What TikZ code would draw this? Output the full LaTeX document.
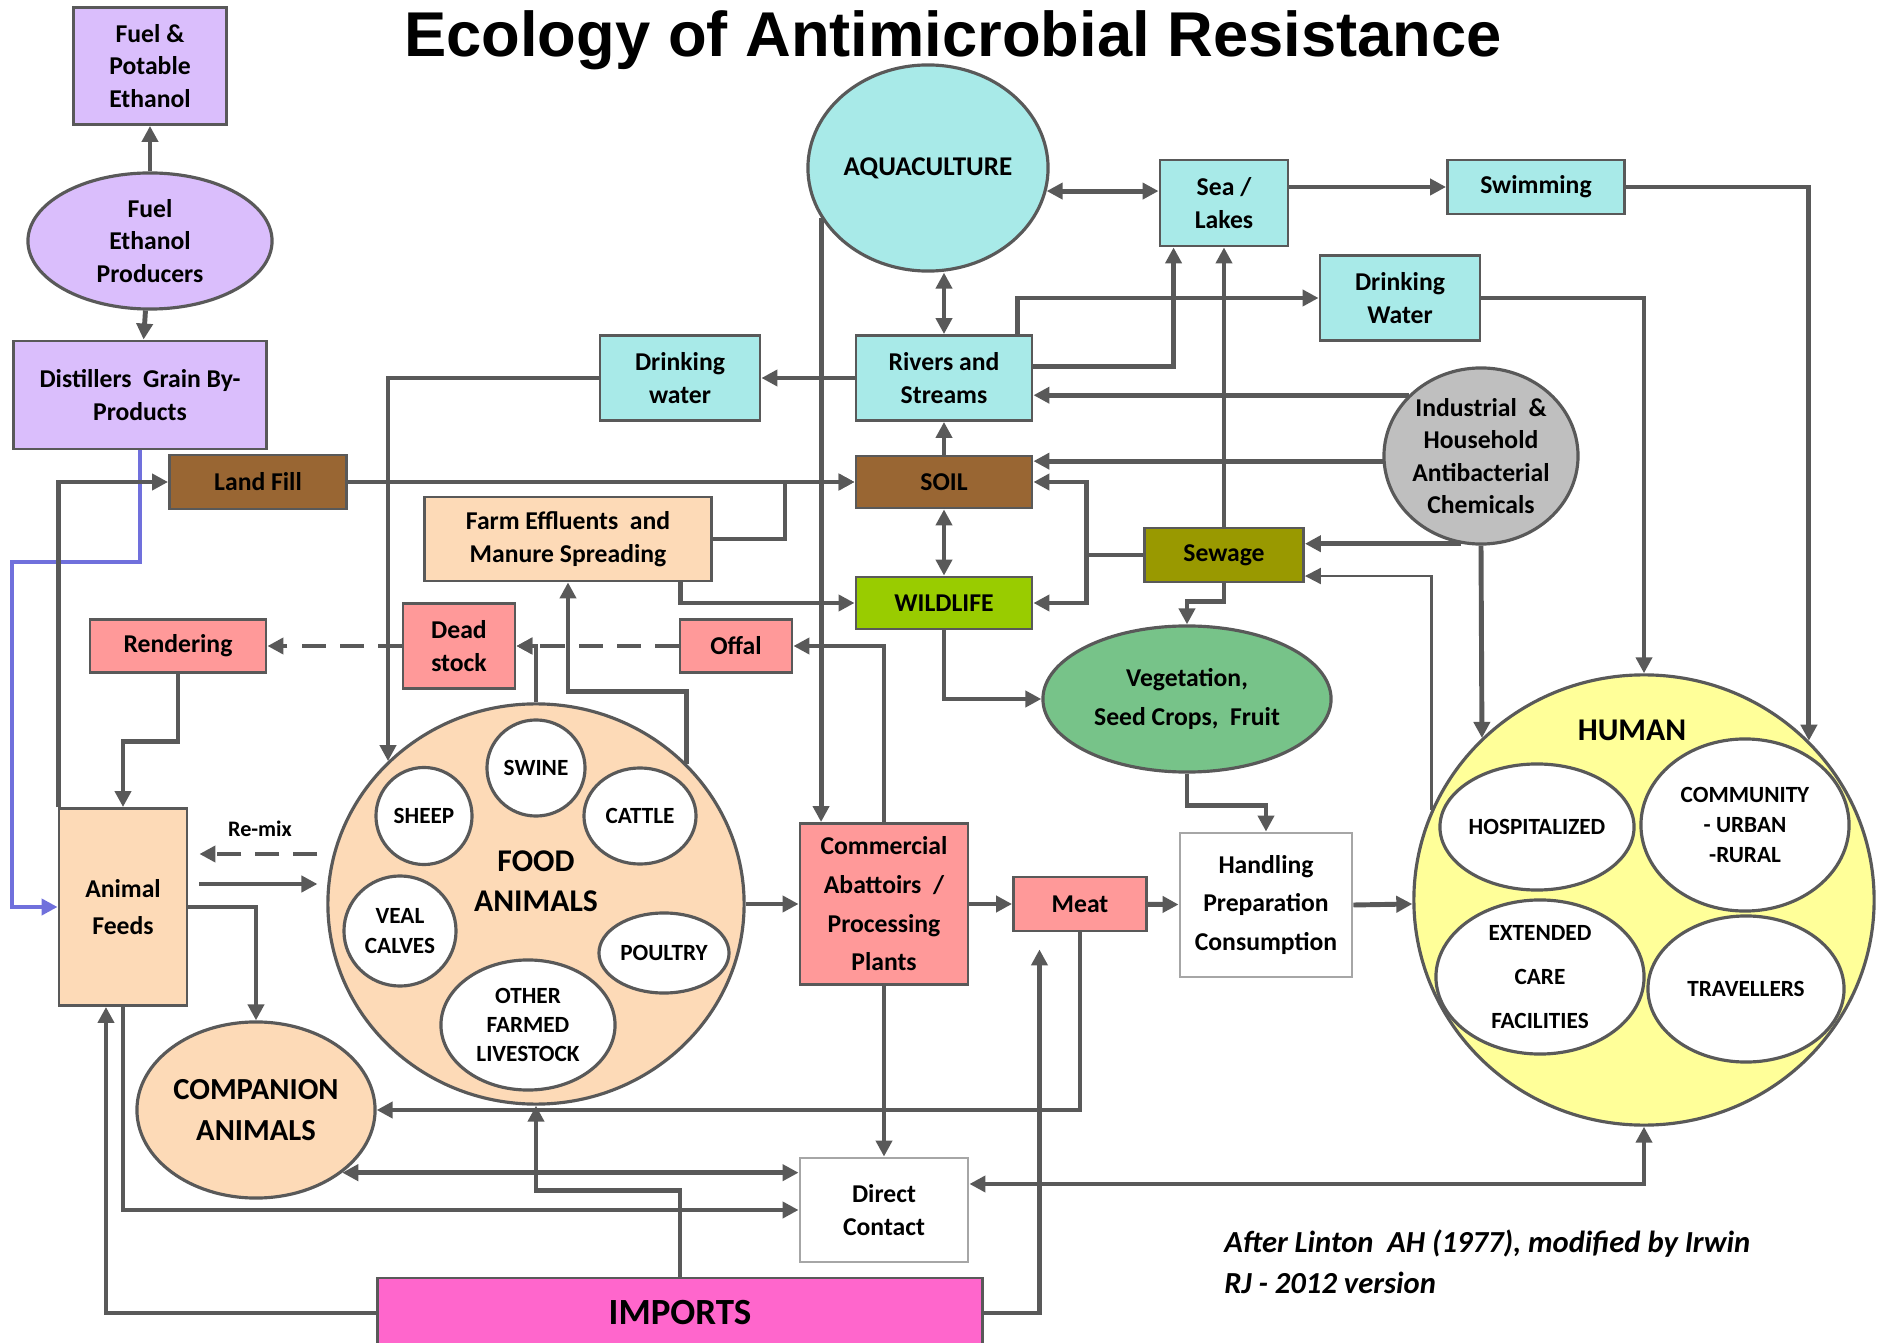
\documentclass[tikz,border=0pt]{standalone}
\usepackage{fontspec}
\setmainfont{Carlito}
\newfontfamily\headfont{Liberation Sans}
\usepackage{tikz}
\usetikzlibrary{calc,arrows.meta,positioning,shapes}
\definecolor{edge}{RGB}{89,89,89}
\definecolor{water}{RGB}{168,234,232}
\definecolor{earth}{RGB}{153,102,51}
\definecolor{peach}{RGB}{253,218,183}
\definecolor{salmon}{RGB}{255,153,153}
\definecolor{wildgreen}{RGB}{153,204,0}
\definecolor{olivebox}{RGB}{153,153,0}
\definecolor{chemgray}{RGB}{191,191,191}
\definecolor{veggreen}{RGB}{119,195,137}
\definecolor{humanyellow}{RGB}{255,255,153}
\definecolor{importpink}{RGB}{255,102,204}
\definecolor{ethanol}{RGB}{218,190,252}
\definecolor{feedline}{RGB}{112,112,220}

\begin{document}
\begin{tikzpicture}[x=0.01cm,y=-0.01cm,
    font=\bfseries\fontsize{7.3}{9.2}\selectfont,
    >={Triangle[length=1.6mm,width=1.6mm]},
    box/.style={draw=edge,line width=0.8pt,align=center,inner sep=1pt},
    blob/.style={ellipse,draw=edge,line width=0.9pt,align=center,inner sep=0pt},
    sub/.style={blob,fill=white,font=\bfseries\fontsize{6.6}{8.5}\selectfont},
    conn/.style={->,draw=edge,line width=1.4pt},
    conn2/.style={<->,draw=edge,line width=1.4pt},
    dashconn/.style={conn,dash pattern=on 2.4mm off 1.4mm}]
  \useasboundingbox (0,0) rectangle (1881,1343);

  \node[font=\headfont\bfseries\fontsize{18}{20}\selectfont] (title) at (953,40) {Ecology of Antimicrobial Resistance};

  % ethanol chain
  \node[box,fill=ethanol,minimum width=1.53cm,minimum height=1.17cm] (fuelpot) at (150,66) {Fuel \&\\Potable\\Ethanol};
  \node[blob,fill=ethanol,minimum width=2.44cm,minimum height=1.36cm] (producers) at (150,241) {Fuel\\Ethanol\\Producers};
  \node[box,fill=ethanol,minimum width=2.53cm,minimum height=1.08cm] (distill) at (140,395) {Distillers~~Grain By-\\Products};

  % water side
  \node[blob,fill=water,minimum width=2.40cm,minimum height=2.06cm,font=\bfseries\fontsize{7.7}{9.2}\selectfont] (aqua) at (928,168) {AQUACULTURE};
  \node[box,fill=water,minimum width=1.28cm,minimum height=0.86cm] (sea) at (1224,203) {Sea /\\Lakes};
  \node[box,fill=water,minimum width=1.77cm,minimum height=0.54cm] (swim) at (1536,187) {Swimming};
  \node[box,fill=water,minimum width=1.60cm,minimum height=0.85cm] (dwright) at (1400,298) {Drinking\\Water};
  \node[box,fill=water,minimum width=1.60cm,minimum height=0.85cm] (dwleft) at (680,378) {Drinking\\water};
  \node[box,fill=water,minimum width=1.76cm,minimum height=0.85cm] (rivers) at (944,378) {Rivers and\\Streams};
  \node[blob,fill=chemgray,minimum width=1.92cm,minimum height=1.76cm] (indus) at (1481,456) {Industrial~~\&\\Household\\Antibacterial\\Chemicals};

  % land
  \node[box,fill=earth,minimum width=1.77cm,minimum height=0.54cm] (landfill) at (258,482) {Land Fill};
  \node[box,fill=earth,minimum width=1.76cm,minimum height=0.52cm] (soil) at (944,482) {SOIL};
  \node[box,fill=wildgreen,minimum width=1.76cm,minimum height=0.52cm] (wild) at (944,603) {WILDLIFE};
  \node[box,fill=olivebox,minimum width=1.59cm,minimum height=0.54cm] (sewage) at (1224,555) {Sewage};
  \node[blob,fill=veggreen,minimum width=2.88cm,minimum height=1.46cm,font=\bfseries\fontsize{7.3}{11.2}\selectfont] (veg) at (1187,699) {Vegetation,\\Seed Crops,~~Fruit};
  \node[box,fill=peach,minimum width=2.87cm,minimum height=0.84cm] (farm) at (568,539) {Farm Effluents~~and\\Manure Spreading};

  % animals
  \node[box,fill=salmon,minimum width=1.12cm,minimum height=0.85cm] (dead) at (459,646) {Dead\\stock};
  \node[box,fill=salmon,minimum width=1.76cm,minimum height=0.53cm] (render) at (178,646) {Rendering};
  \node[box,fill=salmon,minimum width=1.12cm,minimum height=0.53cm] (offal) at (736,646) {Offal};
  \node[box,fill=peach,minimum width=1.28cm,minimum height=1.97cm,font=\bfseries\fontsize{7.3}{10.6}\selectfont] (feeds) at (123,907) {Animal\\Feeds};
  \node[font=\bfseries\fontsize{6.3}{8}\selectfont] (remix) at (260,829) {Re-mix};
  \node[blob,fill=peach,minimum width=4.16cm,minimum height=4.00cm] (food) at (536,904) {};
  \node[font=\bfseries\fontsize{9}{11.3}\selectfont,align=center] (foodlbl) at (536,881) {FOOD\\ANIMALS};
  \node[sub,minimum width=0.98cm,minimum height=0.96cm] (swine) at (536,768) {SWINE};
  \node[sub,minimum width=0.96cm,minimum height=0.97cm] (sheep) at (424,816) {SHEEP};
  \node[sub,minimum width=1.12cm,minimum height=0.96cm] (cattle) at (640,816) {CATTLE};
  \node[sub,minimum width=1.12cm,minimum height=1.10cm] (veal) at (400,931) {VEAL\\CALVES};
  \node[sub,minimum width=1.30cm,minimum height=0.80cm] (poultry) at (664,953) {POULTRY};
  \node[sub,minimum width=1.74cm,minimum height=1.30cm,font=\bfseries\fontsize{6.6}{8.2}\selectfont] (other) at (528,1025) {OTHER\\FARMED\\LIVESTOCK};
  \node[blob,fill=peach,minimum width=2.38cm,minimum height=1.76cm,font=\bfseries\fontsize{8.7}{11.6}\selectfont] (companion) at (256,1110) {COMPANION\\ANIMALS};

  % processing and human
  \node[box,fill=salmon,minimum width=1.68cm,minimum height=1.61cm,font=\bfseries\fontsize{7.3}{11}\selectfont] (abatt) at (884,904) {Commercial\\Abattoirs~~/\\Processing\\Plants};
  \node[box,fill=salmon,minimum width=1.33cm,minimum height=0.54cm] (meat) at (1080,904) {Meat};
  \node[box,draw=gray!70,fill=white,minimum width=1.72cm,minimum height=1.44cm,font=\bfseries\fontsize{7.3}{11}\selectfont] (handling) at (1266,905) {Handling\\Preparation\\Consumption};
  \node[blob,fill=humanyellow,minimum width=4.60cm,minimum height=4.50cm] (human) at (1644,900) {};
  \node[font=\bfseries\fontsize{9}{11}\selectfont] (humanlbl) at (1632,730) {HUMAN};
  \node[sub,minimum width=1.94cm,minimum height=1.26cm] (hosp) at (1537,827) {HOSPITALIZED};
  \node[sub,minimum width=2.08cm,minimum height=1.72cm] (comm) at (1745,825) {COMMUNITY\\- URBAN\\-RURAL};
  \node[sub,minimum width=2.08cm,minimum height=1.54cm,font=\bfseries\fontsize{6.6}{12.6}\selectfont] (ext) at (1540,977) {EXTENDED\\CARE\\FACILITIES};
  \node[sub,minimum width=1.96cm,minimum height=1.46cm] (trav) at (1746,989) {TRAVELLERS};
  \node[box,draw=gray!70,fill=white,minimum width=1.68cm,minimum height=1.04cm,font=\bfseries\fontsize{7.3}{9.6}\selectfont] (direct) at (884,1210) {Direct\\Contact};
  \node[box,fill=importpink,minimum width=6.05cm,minimum height=0.70cm,font=\bfseries\fontsize{10.5}{12}\selectfont] (imports) at (680,1313) {IMPORTS};

  \node[anchor=west,align=left,font=\bfseries\itshape\fontsize{8.7}{11.8}\selectfont] (credit) at (1212,1262) {After Linton~~AH (1977), modified by Irwin\\RJ - 2012 version};

  % connectors
  \draw[conn] (producers) -- (fuelpot);
  \draw[conn] (producers) -- (distill);
  \draw[conn,draw=feedline] (distill.south) |- (12,562) |- (feeds.west);
  \draw[conn] ([xshift=0.1mm]feeds.north west) |- (landfill.west);
  \draw[conn] (landfill) -- (soil);
  \draw[conn] (farm.east) -- ++(72,0) |- (soil.west);
  \draw[conn] ([xshift=1.12cm]farm.south) |- (wild.west);
  \draw[conn] (dwleft.west) -| (food.136.5);
  \draw[conn] (rivers) -- (dwleft);
  \draw[conn2] (aqua.south -| rivers.north) -- (rivers.north);
  \draw[conn2] (aqua.-11) -- (aqua.-11 -| sea.west);
  \draw[conn] (sea.east |- swim.west) -- (swim.west);
  \draw[conn] (swim.east) -| (human.44.3);
  \draw[conn] ([yshift=1.15mm]rivers.east) -| ([xshift=1.5mm]sea.south west);
  \draw[conn] ([xshift=-1.6mm]rivers.north east) |- (dwright.west);
  \draw[conn] (dwright.east) -| (human.north);
  \draw[conn] (indus.140) -- (indus.140 -| rivers.east);
  \draw[conn] (indus.183) -- (indus.183 -| soil.east);
  \draw[conn] (indus.257) -- (indus.257 -| sewage.east);
  \draw[conn] (indus.south) -- (human.135.7);
  \draw[conn] (sewage.north) -- (sewage.north |- sea.south);
  \draw[conn] (sewage.west) -- ++(-57,0) coordinate (sj) |- (soil.east);
  \draw[conn] (sj) |- (wild.east);
  \draw[conn] (sewage.south) -- ++(0,18) -| (veg.north);
  \draw[conn,line width=0.6pt] (human.157.7) |- ([yshift=-2.1mm]sewage.east);
  \draw[conn2] (soil) -- (wild);
  \draw[conn] (soil) -- (rivers);
  \draw[conn] (wild.south) |- (veg.west);
  \draw[conn] (veg.south) -- ++(0,32) -| (handling.north);
  \draw[conn] (handling.east) -- (human);
  \draw[conn] (food) -- (abatt);
  \draw[conn] (abatt) -- (meat);
  \draw[conn] (meat) -- (handling);
  \draw[conn] (aqua.205.5) -- (aqua.205.5 |- abatt.north);
  \draw[conn] (abatt.north) |- (offal.east);
  \draw[dashconn] (offal.west) -- (dead.east);
  \draw[dashconn] (dead.west) -- (render.east);
  \draw[conn] (food.north) |- (dead.east);
  \draw[conn] (food.43.5) |- ([yshift=-1.09cm]farm.south) -- (farm.south);
  \draw[conn] (render.south) -- ++(0,68) -| (feeds.north);
  \draw[dashconn] ($(feeds.east)+(129,-53)$) -- ($(feeds.east)+(11,-53)$);
  \draw[conn] ($(feeds.east)+(11,-23)$) -- ($(feeds.east)+(129,-23)$);
  \draw[conn] (feeds.east) -| (companion.north);
  \draw[conn] (feeds.south) |- (direct.west);
  \draw[conn2] (companion.-36.3) -- (companion.-36.3 -| direct.west);
  \draw[conn] (imports.west) -| ([xshift=-1.7mm]feeds.south);
  \draw[conn] (imports.north) -- ++(0,-86) -| (food.south);
  \draw[conn,shorten >=1.7mm] (imports.east) -| ([xshift=-4.05mm]meat.south);
  \draw[conn] (meat.south) |- (companion.east);
  \draw[conn] (abatt) -- (direct);
  \draw[conn2] ([yshift=2.6mm]direct.east) -| (human.south);
\end{tikzpicture}
\end{document}
